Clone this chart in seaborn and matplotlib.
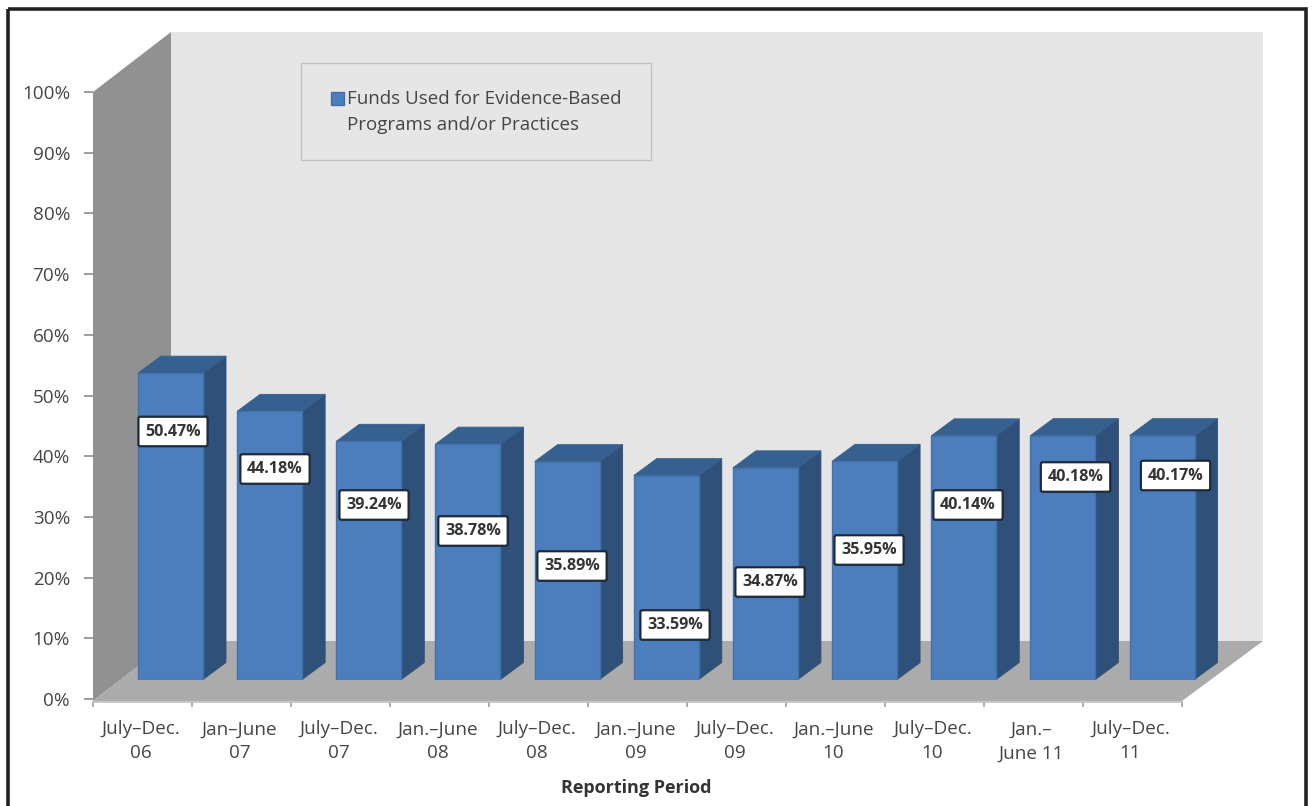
import matplotlib
matplotlib.use("Agg")
import matplotlib.pyplot as plt
from matplotlib.patches import Polygon, Rectangle, Patch
from matplotlib.legend_handler import HandlerPatch
import seaborn as sns

periods = ["July–Dec.\n06", "Jan–June\n07", "July–Dec.\n07", "Jan.–June\n08", "July–Dec.\n08",
           "Jan.–June\n09", "July–Dec.\n09", "Jan.–June\n10", "July–Dec.\n10", "Jan.–\nJune 11", "July–Dec.\n11"]
values = [50.47, 44.18, 39.24, 38.78, 35.89, 33.59, 34.87, 35.95, 40.14, 40.18, 40.17]
y_ticks = list(range(0, 101, 10))
series_name = "Funds Used for Evidence-Based\nPrograms and/or Practices"
label_px_x = [173, 275, 374, 473, 572, 675, 770, 869, 968, 1075.5, 1175.5]
label_px_y = [431.5, 469, 505, 531, 566, 625, 582, 550, 505, 477, 475.5]

W, H = 1312, 806
FONT = "Open Sans"
TXT = "#454545"
FRONT, SIDE, TOP = "#4c7dbc", "#2f5078", "#36608f"
sns.set_theme(style="white")
plt.rcParams["font.family"] = [FONT, "DejaVu Sans"]

fig = plt.figure(figsize=(W / 100, H / 100), dpi=100, facecolor="white")

def px_axes(l, t, r, b, **kw):
    return fig.add_axes([l / W, 1 - b / H, (r - l) / W, (b - t) / H], **kw)

# backdrop in pixel units: walls, floor, frame
bg = px_axes(0, 0, W, H)
bg.set_xlim(0, W); bg.set_ylim(H, 0); bg.axis("off")
bg.add_patch(Polygon([(171, 32), (1263, 32), (1263, 641), (171, 641)], fc="#e5e5e5", ec="none"))
bg.add_patch(Polygon([(93, 92), (171, 32), (171, 641), (93, 701)], fc="#919191", ec="none"))
bg.add_patch(Polygon([(93, 701), (171, 641), (1263, 641), (1182, 701)], fc="#ababab", ec="none"))
bg.add_patch(Rectangle((8, 9), 1298, 800, fc="none", ec="#222222", lw=2.6))
bg.add_patch(Rectangle((300.5, 62.5), 350, 97, fc="#e6e6e6", ec="#c2c2c2", lw=1.0))

# front axis: ticks and labels
ta = px_axes(93, 92, 1182, 702)
ta.patch.set_alpha(0)
ta.set_xlim(-0.5, 10.5)
ta.set_ylim(-0.49, 100)
for s in ["top", "right", "left"]:
    ta.spines[s].set_visible(False)
ta.spines["bottom"].set_color("#bdbdbd")
ta.spines["bottom"].set_linewidth(1.2)
ta.set_yticks(y_ticks, [f"{v}%" for v in y_ticks])
ta.tick_params(axis="y", length=6.5, width=1.2, color="#8c8c8c", pad=10, labelsize=13.6, labelcolor=TXT, left=True)
ta.set_xticks([i - 0.5 for i in range(len(periods) + 1)], [""] * (len(periods) + 1))
ta.tick_params(axis="x", which="major", length=3.6, width=1.2, color="#9c9c9c", bottom=True)
ta.set_xticks([i - 0.02 for i in range(len(periods))], periods, minor=True)
ta.tick_params(axis="x", which="minor", length=0, pad=13.3, labelsize=13.6, labelcolor=TXT)
for t in ta.get_xticklabels(minor=True):
    t.set_linespacing(1.42)
ta.set_xlabel("Reporting Period", fontsize=13, fontweight="bold", color="#333333")
ta.xaxis.set_label_coords(0.4985, -0.126)

# bars
ax = px_axes(120.9, 72.5, 1211.6, 679.5)
ax.patch.set_alpha(0)
sns.barplot(x=list(range(len(values))), y=values, color=FRONT, width=0.656, saturation=1,
            ax=ax, edgecolor="#4272ad", linewidth=1, zorder=3)
ax.set_xlim(-0.5, 10.5)
ax.set_ylim(0, 100)
ax.axis("off")
PX_X, PX_Y = 99.15, 6.07
dx, dy = 23 / PX_X, 17 / PX_Y
for p in ax.patches[:len(values)]:
    x0, w, h = p.get_x(), p.get_width(), p.get_height()
    x1 = x0 + w
    ax.add_patch(Polygon([(x1, 0), (x1 + dx, dy), (x1 + dx, h + dy), (x1, h)], fc=SIDE, ec=SIDE, lw=0.6, zorder=2, clip_on=False))
    ax.add_patch(Polygon([(x0, h), (x0 + dx, h + dy), (x1 + dx, h + dy), (x1, h)], fc=TOP, ec=TOP, lw=0.6, zorder=2, clip_on=False))

for v, lx, ly in zip(values, label_px_x, label_px_y):
    ax.text((lx - 120.9) / PX_X - 0.5, (679.5 - ly) / PX_Y, f"{v:.2f}%", ha="center", va="center",
            fontsize=11.6, fontweight="bold", color="#333333", zorder=6,
            bbox=dict(boxstyle="round,pad=0.42,rounding_size=0.12", fc="white", ec="#1f2a38", lw=1.6))

def raised_swatch(legend, orig_handle, xdescent, ydescent, width, height, fontsize):
    # align the swatch with the first line of the two-line label
    return Rectangle((-xdescent, -ydescent + 10.2), width, height)

leg = ax.legend([Patch(fc=FRONT, ec="#3f6ea8")], [series_name], frameon=False, loc="upper left",
                bbox_to_anchor=(331 / W, 1 - 90.5 / H), bbox_transform=fig.transFigure,
                fontsize=13.5, handlelength=0.7, handleheight=0.7, handletextpad=0.18, borderpad=0, borderaxespad=0,
                handler_map={Patch: HandlerPatch(patch_func=raised_swatch)})
for t in leg.get_texts():
    t.set_color(TXT)
    t.set_linespacing(1.54)

fig.savefig("out.png", dpi=100)
